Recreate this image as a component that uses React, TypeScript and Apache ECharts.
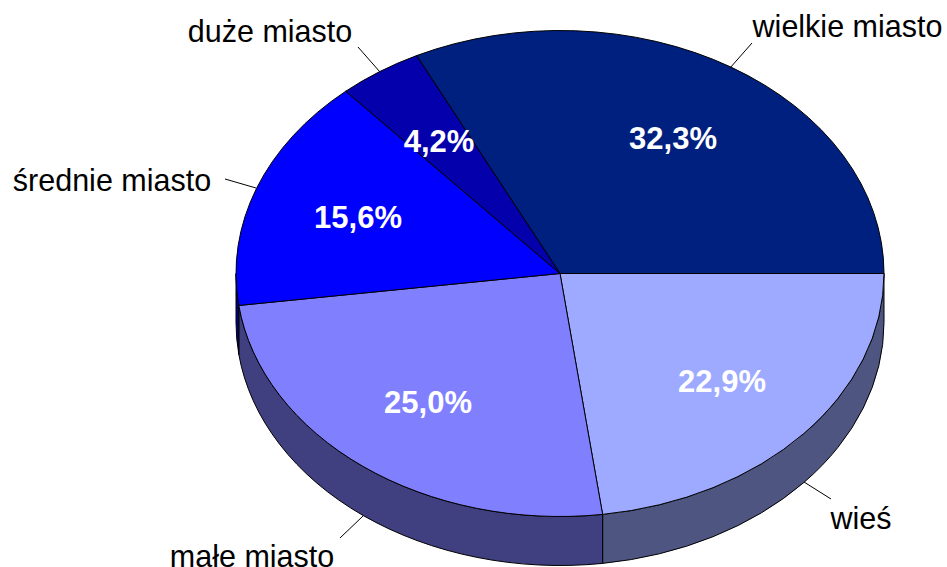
import React, { useEffect, useRef } from "react";
import * as echarts from "echarts";

const categories = ["wielkie miasto", "wieś", "małe miasto", "średnie miasto", "duże miasto"];
const values = [32.3, 22.9, 25.0, 15.6, 4.2];
const valueLabels = ["32,3%", "22,9%", "25,0%", "15,6%", "4,2%"];
const topColors = ["#00207F", "#9DAAFF", "#8080FF", "#0000FF", "#0400AC"];
const sideColors = ["#001040", "#4D5580", "#403F80", "#000080", "#020056"];

const CX = 560;
const CY = 273.5;
const RX = 324;
const RY = 243;
const DEPTH = 49;
const START_DEG = 90 - (values[0] / 100) * 360;

// Placement of texts and leader lines per slice
const valuePos = [[673, 138], [722, 381], [428, 402], [358, 217], [439, 141]];
const namePos = [[847.5, 25.5], [861, 517.5], [252, 556], [112, 180], [270, 30.5]];
const leaders = [
  [752, 43, 730, 68],
  [804, 482, 831, 499],
  [363, 516, 340, 538],
  [225, 179, 256, 188],
  [358, 47, 380, 72],
];

const FONT = "'Liberation Sans', Arial, sans-serif";

const total = values.reduce((a, b) => a + b, 0);
function sliceAngles(i: number): [number, number] {
  let before = 0;
  for (let k = 0; k < i; k++) before += values[k];
  const a = START_DEG + (before / total) * 360;
  return [a, a + (values[i] / total) * 360];
}
function pt(deg: number, dy = 0): [number, number] {
  const r = (deg * Math.PI) / 180;
  return [CX + RX * Math.sin(r), CY - RY * Math.cos(r) + dy];
}
function fmt(p: [number, number]) {
  return p[0].toFixed(2) + " " + p[1].toFixed(2);
}

function renderTop(params: any) {
  const [a, b] = sliceAngles(params.dataIndex);
  const large = b - a > 180 ? 1 : 0;
  const d = `M ${CX} ${CY} L ${fmt(pt(a))} A ${RX} ${RY} 0 ${large} 1 ${fmt(pt(b))} Z`;
  return {
    type: "path",
    shape: { pathData: d },
    style: { fill: topColors[params.dataIndex], stroke: "#000", lineWidth: 1 },
  };
}

function renderSide(params: any) {
  const [a0, b0] = sliceAngles(params.dataIndex);
  // The wall is visible on the front half of the ellipse only (90°..270° clockwise from top)
  const ranges: [number, number][] = [
    [a0, b0],
    [a0 + 360, b0 + 360],
    [a0 - 360, b0 - 360],
  ];
  const children: any[] = [];
  ranges.forEach(([x, y]) => {
    const a = Math.max(x, 90);
    const b = Math.min(y, 270);
    if (b <= a) return;
    const d =
      `M ${fmt(pt(a))} A ${RX} ${RY} 0 0 1 ${fmt(pt(b))} ` +
      `L ${fmt(pt(b, DEPTH))} A ${RX} ${RY} 0 0 0 ${fmt(pt(a, DEPTH))} Z`;
    children.push({
      type: "path",
      shape: { pathData: d },
      style: { fill: sideColors[params.dataIndex], stroke: "#000", lineWidth: 1 },
    });
  });
  return { type: "group", children };
}

function renderLabels(params: any) {
  const i = params.dataIndex;
  const [x1, y1, x2, y2] = leaders[i];
  return {
    type: "group",
    children: [
      {
        type: "line",
        shape: { x1, y1, x2, y2 },
        style: { stroke: "#000", lineWidth: 1 },
      },
      {
        type: "text",
        x: namePos[i][0],
        y: namePos[i][1],
        style: {
          text: categories[i],
          fill: "#000",
          fontFamily: FONT,
          fontSize: 30.5,
          align: "center",
          verticalAlign: "middle",
        },
      },
      {
        type: "text",
        x: valuePos[i][0],
        y: valuePos[i][1],
        style: {
          text: valueLabels[i],
          fill: "#fff",
          fontFamily: FONT,
          fontSize: 31,
          fontWeight: "bold",
          align: "center",
          verticalAlign: "middle",
        },
      },
    ],
  };
}

export default function App() {
  const ref = useRef<HTMLDivElement>(null);
  useEffect(() => {
    const chart = echarts.init(ref.current!, null, { renderer: "svg" });
    const data = categories.map((name, i) => ({ name, value: values[i] }));
    chart.setOption({
      animation: false,
      backgroundColor: "#fff",
      series: [
        { type: "custom", coordinateSystem: "none", z: 1, silent: true, data, renderItem: renderSide },
        { type: "custom", coordinateSystem: "none", z: 2, silent: true, data, renderItem: renderTop },
        { type: "custom", coordinateSystem: "none", z: 3, silent: true, data, renderItem: renderLabels },
      ],
    });
    return () => chart.dispose();
  }, []);
  return (
    <div
      ref={ref}
      style={{ position: "fixed", left: 0, top: 0, width: 947, height: 567 }}
    />
  );
}
